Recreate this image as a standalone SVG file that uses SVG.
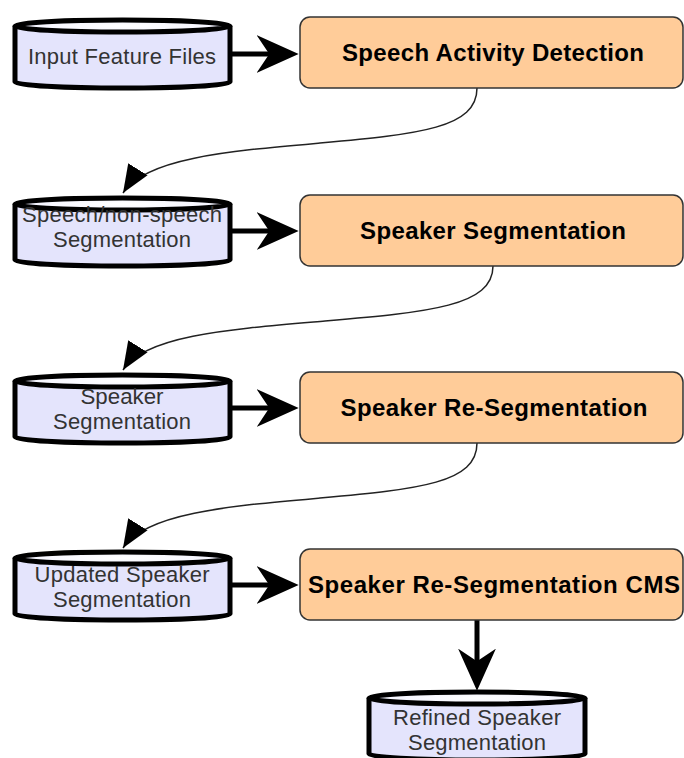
<svg xmlns="http://www.w3.org/2000/svg" width="684" height="758" viewBox="0 0 684 758">
<defs>
<radialGradient id="topg" cx="0.5" cy="0.5" r="0.5">
<stop offset="0" stop-color="#ffffff"/>
<stop offset="0.8" stop-color="#f6f6ff"/>
<stop offset="1" stop-color="#dcdcf6"/>
</radialGradient>
<marker id="bigArrow" markerUnits="userSpaceOnUse" markerWidth="42" markerHeight="38" viewBox="0 0 40 36" refX="27" refY="18" orient="auto">
<path d="M0,0 L40,18 L0,36 L12,18 Z" fill="#000"/>
</marker>
<marker id="smallArrow" markerUnits="userSpaceOnUse" markerWidth="28" markerHeight="24" viewBox="0 0 27 22" refX="27" refY="11" orient="auto">
<path d="M0,0 L27,11 L0,22 Z" fill="#000"/>
</marker>
</defs>
<style>
.box{fill:#ffcc99;stroke:#333;stroke-width:1.5}
.cyl{fill:#e4e4fc;stroke:#000;stroke-width:5;stroke-linejoin:round}
.cyltop{fill:url(#topg);stroke:#000;stroke-width:5}
.bt{font-family:"Liberation Sans",Arial,sans-serif;font-weight:bold;font-size:24px;fill:#000;text-anchor:middle}
.ct{font-family:"Liberation Sans",Arial,sans-serif;font-size:22px;fill:#333;text-anchor:middle}
.thick{stroke:#000;stroke-width:5;fill:none;marker-end:url(#bigArrow)}
.curve{stroke:#222;stroke-width:1.5;fill:none;marker-end:url(#smallArrow)}
</style>
<rect width="684" height="758" fill="#fff"/>

<g id="connectors">
<line class="thick" x1="230" y1="54" x2="285" y2="54"/>
<line class="thick" x1="230" y1="231" x2="285" y2="231"/>
<line class="thick" x1="230" y1="408" x2="285" y2="408"/>
<line class="thick" x1="230" y1="585" x2="285" y2="585"/>
<line class="thick" x1="477" y1="620" x2="477" y2="677"/>
<path class="curve" d="M477,88 C477,128 420,134 320,143 C230,151 145,158 123,193"/>
<path class="curve" d="M493,266 C493,306 430,312 325,321 C232,329 145,335 123,370"/>
<path class="curve" d="M477,443 C477,483 420,489 320,498 C230,506 145,513 123,548"/>
</g>

<g id="input-feature-files">
<path class="cyl" d="M15,26 V82 A107.5,6 0 0 0 230,82 V26"/>
<ellipse class="cyltop" cx="122.5" cy="26" rx="107.5" ry="6"/>
<text class="ct" x="122" y="64" textLength="188" lengthAdjust="spacing">Input Feature Files</text>
</g>

<g id="speech-activity-detection">
<rect class="box" x="300" y="17" width="383" height="71" rx="10"/>
<text class="bt" x="493" y="61" textLength="302" lengthAdjust="spacing">Speech Activity Detection</text>
</g>

<g id="speech-nonspeech-segmentation">
<path class="cyl" d="M15,204 V260 A107.5,6 0 0 0 230,260 V204"/>
<ellipse class="cyltop" cx="122.5" cy="204" rx="107.5" ry="6"/>
<text class="ct" x="122" y="222" textLength="200" lengthAdjust="spacing">Speech/non-speech</text>
<text class="ct" x="122" y="247" textLength="138" lengthAdjust="spacing">Segmentation</text>
</g>

<g id="speaker-segmentation">
<rect class="box" x="300" y="195" width="383" height="71" rx="10"/>
<text class="bt" x="493" y="239" textLength="266" lengthAdjust="spacing">Speaker Segmentation</text>
</g>

<g id="speaker-segmentation-file">
<path class="cyl" d="M15,381 V437 A107.5,6 0 0 0 230,437 V381"/>
<ellipse class="cyltop" cx="122.5" cy="381" rx="107.5" ry="6"/>
<text class="ct" x="122" y="404" textLength="83" lengthAdjust="spacingAndGlyphs">Speaker</text>
<text class="ct" x="122" y="429" textLength="138" lengthAdjust="spacing">Segmentation</text>
</g>

<g id="speaker-resegmentation">
<rect class="box" x="300" y="372" width="383" height="71" rx="10"/>
<text class="bt" x="494" y="416" textLength="307" lengthAdjust="spacing">Speaker Re-Segmentation</text>
</g>

<g id="updated-speaker-segmentation">
<path class="cyl" d="M15,558 V614 A107.5,6 0 0 0 230,614 V558"/>
<ellipse class="cyltop" cx="122.5" cy="558" rx="107.5" ry="6"/>
<text class="ct" x="122" y="582" textLength="175" lengthAdjust="spacing">Updated Speaker</text>
<text class="ct" x="122" y="607" textLength="138" lengthAdjust="spacing">Segmentation</text>
</g>

<g id="speaker-resegmentation-cms">
<rect class="box" x="300" y="549" width="383" height="71" rx="10"/>
<text class="bt" x="494" y="593" textLength="372" lengthAdjust="spacing">Speaker Re-Segmentation CMS</text>
</g>

<g id="refined-speaker-segmentation">
<path class="cyl" d="M369,698 V754 A108,6 0 0 0 585,754 V698"/>
<ellipse class="cyltop" cx="477" cy="698" rx="108" ry="6"/>
<text class="ct" x="477" y="725" textLength="168" lengthAdjust="spacing">Refined Speaker</text>
<text class="ct" x="477" y="750" textLength="138" lengthAdjust="spacing">Segmentation</text>
</g>
</svg>
